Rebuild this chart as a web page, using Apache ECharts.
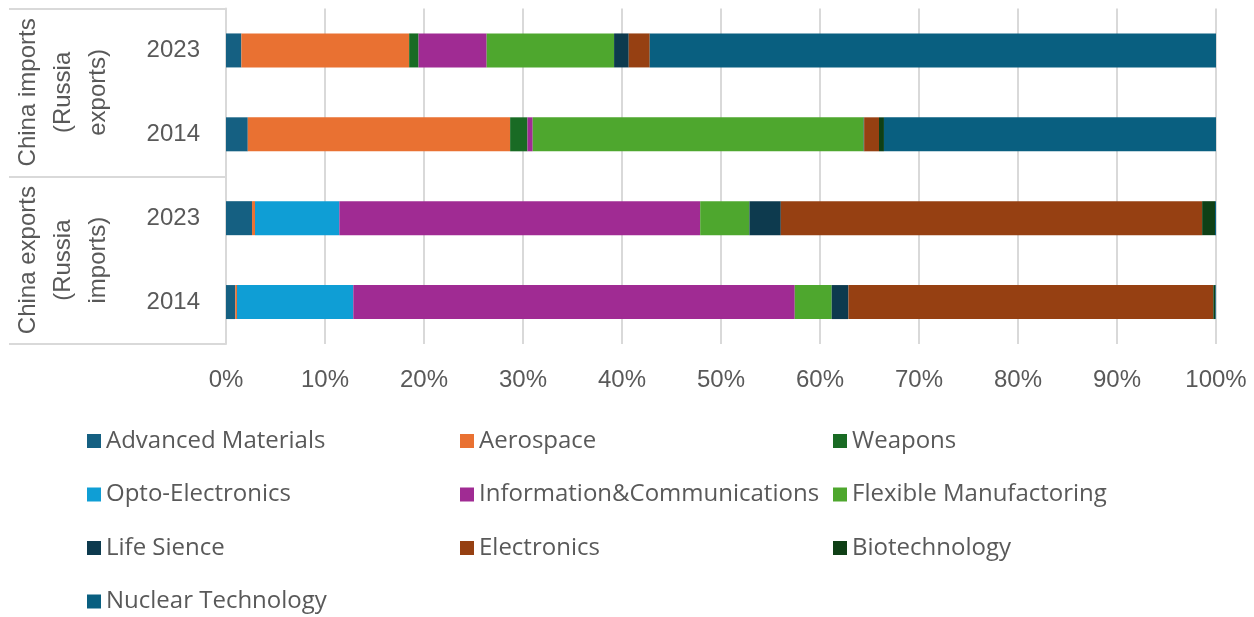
<!DOCTYPE html>
<html>
<head>
<meta charset="utf-8">
<script src="https://cdn.jsdelivr.net/npm/echarts@6/dist/echarts.min.js"></script>
<style>
  html, body { margin: 0; padding: 0; background: #fff; }
  #main { width: 1254px; height: 617px; }
</style>
</head>
<body>
<div id="main"></div>
<script>
  // rows top to bottom
  var years = ['2023', '2014', '2023', '2014']
  var groups = ['China imports\n(Russia\nexports)', 'China exports\n(Russia\nimports)']
  var xTicks = [0, 10, 20, 30, 40, 50, 60, 70, 80, 90, 100]

  // share in % : [imports 2023, imports 2014, exports 2023, exports 2014]
  var advancedMaterials = [1.55, 2.2, 2.63, 0.94]
  var aerospace = [16.95, 26.5, 0.3, 0.17]
  var weapons = [0.95, 1.75, 0, 0]
  var optoElectronics = [0, 0, 8.52, 11.75]
  var infoComm = [6.88, 0.53, 36.45, 44.59]
  var flexibleManuf = [12.87, 33.43, 4.97, 3.73]
  var lifeScience = [1.48, 0.05, 3.17, 1.69]
  var electronics = [2.12, 1.5, 42.56, 36.86]
  var biotechnology = [0, 0.5, 1.3, 0.2]
  var nuclearTech = [57.2, 33.54, 0.1, 0.07]

  var seriesList = [
    { name: 'Advanced Materials', data: advancedMaterials, color: '#156082' },
    { name: 'Aerospace', data: aerospace, color: '#E97132' },
    { name: 'Weapons', data: weapons, color: '#196B24' },
    { name: 'Opto-Electronics', data: optoElectronics, color: '#0F9ED5' },
    { name: 'Information&Communications', data: infoComm, color: '#A02B93' },
    { name: 'Flexible Manufactoring', data: flexibleManuf, color: '#4EA72E' },
    { name: 'Life Sience', data: lifeScience, color: '#0D3A4E' },
    { name: 'Electronics', data: electronics, color: '#964012' },
    { name: 'Biotechnology', data: biotechnology, color: '#0F4016' },
    { name: 'Nuclear Technology', data: nuclearTech, color: '#095F80' },
  ]

  var myChart = echarts.init(document.getElementById('main'))

  var legendText = { color: '#595959', fontSize: 24, fontFamily: 'Open Sans', lineHeight: 24 }
  function makeLegend(names, left) {
    return {
      orient: 'vertical',
      left: left,
      top: 429,
      height: 190,
      padding: 0,
      icon: 'rect',
      itemWidth: 14,
      itemHeight: 14,
      itemGap: 29.5,
      textStyle: legendText,
      data: names,
    }
  }

  var option = {
    animation: false,
    legend: [
      makeLegend(['Advanced Materials', 'Opto-Electronics', 'Life Sience', 'Nuclear Technology'], 87),
      makeLegend(['Aerospace', 'Information&Communications', 'Electronics'], 460),
      makeLegend(['Weapons', 'Flexible Manufactoring', 'Biotechnology'], 833),
    ],
    grid: { left: 226, right: 38, top: 8.5, bottom: 273 },
    xAxis: {
      type: 'value',
      min: 0,
      max: 100,
      interval: 10,
      axisLine: { show: false },
      axisTick: { show: false },
      splitLine: { lineStyle: { color: '#D9D9D9', width: 2 } },
      axisLabel: {
        formatter: '{value}%',
        color: '#595959',
        fontSize: 24,
        fontFamily: 'Liberation Sans',
        margin: 24,
      },
    },
    yAxis: [
      {
        type: 'category',
        data: years,
        inverse: true,
        axisLine: { show: true, lineStyle: { color: '#D9D9D9', width: 2 } },
        axisTick: { show: false },
        axisLabel: {
          color: '#595959',
          fontSize: 24,
          fontFamily: 'Liberation Sans',
          margin: 26,
        },
      },
      {
        type: 'category',
        data: groups,
        inverse: true,
        position: 'left',
        offset: 0,
        axisLine: { show: false },
        axisTick: { show: true, interval: 0, length: 217, lineStyle: { color: '#D9D9D9', width: 2 } },
        axisLabel: {
          interval: 0,
          rotate: 90,
          color: '#595959',
          fontSize: 24,
          lineHeight: 35,
          fontFamily: 'Liberation Sans',
          margin: 110,
          align: 'center',
        },
      },
    ],
    series: seriesList.map(function (s) {
      return {
        name: s.name,
        type: 'bar',
        stack: 'total',
        barWidth: 34,
        itemStyle: { color: s.color },
        data: s.data,
      }
    }),
  }

  myChart.setOption(option)
  window.addEventListener('resize', function () {
    myChart.resize()
  })
</script>
</body>
</html>
